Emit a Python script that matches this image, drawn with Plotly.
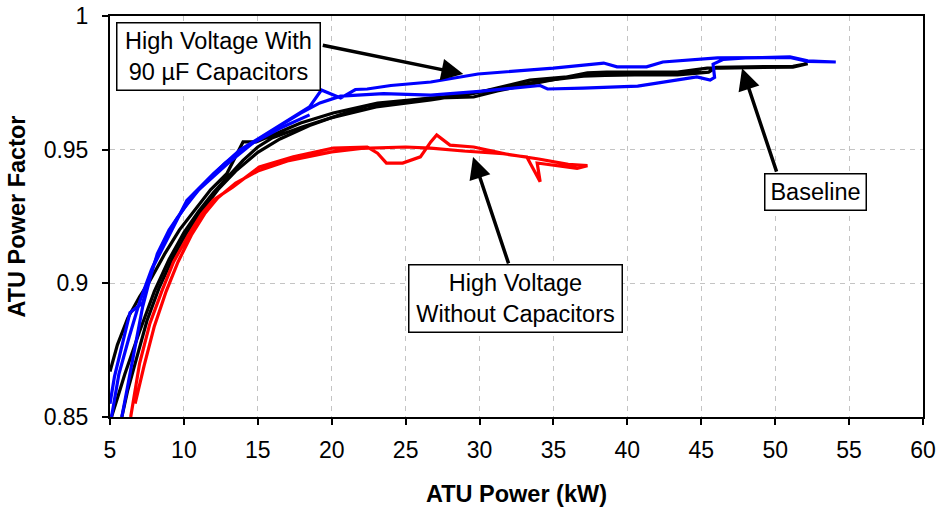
import plotly.graph_objects as go

# ---------------- data ----------------
x_ticks = [5, 10, 15, 20, 25, 30, 35, 40, 45, 50, 55, 60]
y_ticks = [0.85, 0.9, 0.95, 1.0]
y_tick_labels = ["0.85", "0.9", "0.95", "1"]

# Baseline (black) - run A: out along upper strand, back along lower strand
base_a_x = [5.0, 5.5, 6.2, 7.0, 7.7, 8.7, 9.7, 10.8, 11.8, 12.9, 14.0, 14.9, 16.0, 17.9, 20.1, 23.1,
            26.7, 29.6, 31.2, 34.0, 37.3, 38.6, 43.4, 45.4, 46.3, 51.2, 52.2,
            51.2, 46.0, 45.5, 43.4, 37.5, 33.4, 29.6, 26.7, 23.0, 20.0, 18.0, 16.0, 15.0,
            14.0, 13.0, 12.0, 11.0, 10.0, 9.0, 8.0, 7.0, 6.0, 5.5, 5.1]
base_a_y = [0.867, 0.877, 0.887, 0.895, 0.901, 0.911, 0.920, 0.928, 0.935, 0.941, 0.9529, 0.9529,
            0.9555, 0.960, 0.9637, 0.9674, 0.9693, 0.9697, 0.972, 0.975, 0.9787, 0.979, 0.979,
            0.9805, 0.9805, 0.9809, 0.9822,
            0.9812, 0.9808, 0.979, 0.978, 0.978, 0.976, 0.971, 0.9686, 0.966, 0.962, 0.9585,
            0.9545, 0.951, 0.946, 0.940, 0.934, 0.927, 0.919, 0.909, 0.897, 0.882, 0.866,
            0.857, 0.850]
# Baseline (black) - run B
base_b_x = [5.8, 6.2, 6.8, 7.5, 8.3, 9.2, 10.2, 11.2, 12.3, 13.5, 15.0, 16.5, 18.5, 20.5, 22.5, 25.0,
            28.0, 31.0, 34.0, 37.0, 40.0, 43.0, 45.0]
base_b_y = [0.850, 0.860, 0.872, 0.886, 0.898, 0.909, 0.919, 0.927, 0.935, 0.942, 0.949, 0.954,
            0.959, 0.963, 0.9665, 0.968, 0.970, 0.9725, 0.9755, 0.9775, 0.978, 0.9785, 0.979]

# High voltage with 90 uF capacitors (blue) - run A
cap_a_x = [5.8, 6.6, 7.2, 7.9, 8.9, 9.7, 10.2, 12.0, 13.8, 15.6, 17.9, 19.2, 20.6, 23.5, 26.7,
           30.0, 34.1, 34.6, 37.0, 40.7, 44.7, 45.6, 45.9, 45.8, 46.5, 48.0, 51.0, 52.2, 54.1,
           52.2, 51.0, 46.1, 42.4, 41.3, 39.3, 38.4, 35.0, 29.9, 26.7, 24.0, 22.4, 21.6, 20.6,
           19.3, 18.5, 17.0, 15.0, 13.0, 11.0, 10.0, 9.0, 8.2, 7.2, 6.35, 5.3, 5.0]
cap_a_y = [0.850, 0.874, 0.891, 0.906, 0.917, 0.926, 0.931, 0.941, 0.950, 0.956, 0.9637, 0.9675,
           0.970, 0.971, 0.9704, 0.9718, 0.974, 0.9727, 0.9730, 0.9738, 0.9772, 0.9760, 0.9770,
           0.9820, 0.9838, 0.9843, 0.9847, 0.9832, 0.9828,
           0.9830, 0.9845, 0.9843, 0.9828, 0.981, 0.981, 0.9824, 0.9805, 0.9783, 0.9753, 0.974,
           0.9727, 0.9725, 0.9693, 0.9723, 0.966, 0.961, 0.954, 0.945, 0.935, 0.928, 0.920,
           0.911, 0.8926, 0.889, 0.865, 0.855]
# blue - run B (short lower strand)
cap_b_x = [5.1, 5.6, 6.3, 7.0, 7.8, 8.6, 9.5, 10.5, 11.5, 12.8, 14.5, 16.5, 18.5]
cap_b_y = [0.850, 0.866, 0.880, 0.893, 0.905, 0.915, 0.924, 0.932, 0.938, 0.945, 0.952, 0.958, 0.963]

# High voltage without capacitors (red) - run A
nocap_a_x = [6.4, 7.0, 7.7, 8.5, 9.3, 10.3, 11.2, 12.0, 13.3, 15.1, 17.4, 20.1, 22.4, 23.1, 23.7,
             24.8, 26.0, 26.7, 27.1, 28.0, 29.6, 32.1, 33.2, 34.1, 33.9, 36.6, 37.3,
             36.0, 34.0, 31.6, 28.9, 26.7, 25.0, 22.0, 20.0, 17.0, 15.0, 13.5, 12.3, 11.4,
             10.5, 9.6, 8.8, 8.0, 7.3, 6.7]
nocap_a_y = [0.850, 0.870, 0.885, 0.897, 0.908, 0.918, 0.926, 0.9312, 0.936, 0.9435, 0.9473,
             0.9506, 0.951, 0.9487, 0.945, 0.945, 0.9473, 0.9529, 0.9555, 0.9517, 0.951, 0.948,
             0.9473, 0.938, 0.945, 0.943, 0.944,
             0.9445, 0.9465, 0.9485, 0.9495, 0.9506, 0.951, 0.9505, 0.9492, 0.9458, 0.942,
             0.9375, 0.932, 0.926, 0.918, 0.908, 0.897, 0.884, 0.869, 0.855]

# ---------------- figure ----------------
FONT = "Liberation Sans, Arial, sans-serif"
fig = go.Figure()

def add_line(xs, ys, color, name):
    fig.add_trace(go.Scatter(x=xs, y=ys, mode="lines", name=name,
                             line=dict(color=color, width=3.2), showlegend=False,
                             hoverinfo="skip"))

add_line(base_a_x, base_a_y, "#000000", "Baseline A")
add_line(base_b_x, base_b_y, "#000000", "Baseline B")
add_line(nocap_a_x, nocap_a_y, "#ff0000", "High Voltage Without Capacitors")
add_line(cap_b_x, cap_b_y, "#0000ff", "High Voltage With 90 uF B")
add_line(cap_a_x, cap_a_y, "#0000ff", "High Voltage With 90 uF A")

# arrows (text-less annotations), tip in data coords, tail offset in px
arrow_style = dict(showarrow=True, text="", arrowhead=2, arrowsize=1.25, arrowwidth=3.5,
                   arrowcolor="#000000", xref="x", yref="y", standoff=0, startstandoff=0)
fig.add_annotation(x=28.9, y=0.9783, ax=-142, ay=-29, **arrow_style)
fig.add_annotation(x=47.76, y=0.9805, ax=35, ay=105, **arrow_style)
fig.add_annotation(x=29.56, y=0.9473, ax=36, ay=108, **arrow_style)

box_style = dict(showarrow=False, xref="x", yref="y", bgcolor="#ffffff",
                 bordercolor="#000000", borderwidth=1.5, borderpad=4,
                 font=dict(family=FONT, size=23.5, color="#000000"), align="center")
fig.add_annotation(x=12.37, y=0.98485, text="High Voltage With<br>90 µF Capacitors",
                   width=194, height=58, **box_style)
fig.add_annotation(x=52.7, y=0.9343, text="Baseline", width=92, height=27, **box_style)
fig.add_annotation(x=32.44, y=0.8943, text="High Voltage<br>Without Capacitors",
                   width=204, height=58, **box_style)

axis_common = dict(showline=True, linecolor="#000000", linewidth=2, mirror=True,
                   ticks="outside", ticklen=6, tickwidth=1.5, tickcolor="#000000",
                   showgrid=True, gridcolor="#c4c4c4", gridwidth=1, griddash="5px,5px",
                   zeroline=False, ticklabeloverflow="allow",
                   tickfont=dict(family=FONT, size=23, color="#000000"))

fig.update_xaxes(range=[5, 60], tickvals=x_ticks, ticktext=[str(v) for v in x_ticks],
                 ticklabelstandoff=5,
                 title=dict(text="<b>ATU Power (kW)</b>", standoff=33,
                            font=dict(family=FONT, size=23.5, color="#000000")),
                 **axis_common)
fig.update_yaxes(range=[0.85, 1.0], tickvals=y_ticks, ticktext=y_tick_labels,
                 ticklabelstandoff=9,
                 title=dict(text="<b>ATU Power Factor</b>", standoff=11,
                            font=dict(family=FONT, size=23.5, color="#000000")),
                 **axis_common)

fig.update_layout(width=937, height=507, margin=dict(l=110, r=14, t=16, b=90, autoexpand=False),
                  paper_bgcolor="#ffffff", plot_bgcolor="#ffffff",
                  font=dict(family=FONT, color="#000000"))

# remove the browser's default 8px body margin so the figure sits at the page origin
fig.write_html("out.html", config={"displayModeBar": False},
               post_script="document.body.style.margin='0px';")
